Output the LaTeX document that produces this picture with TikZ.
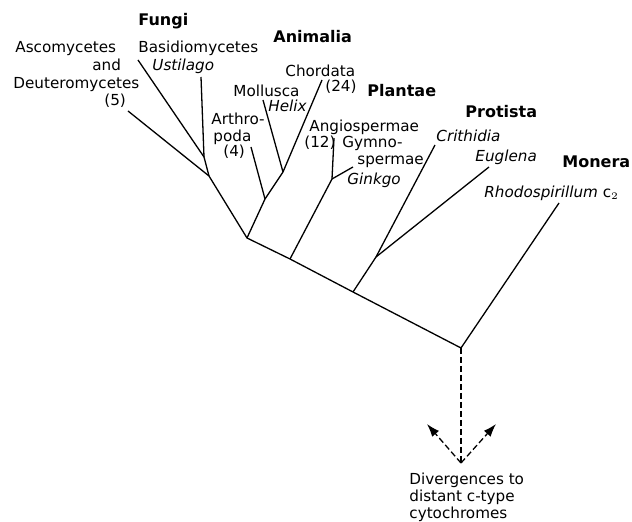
\documentclass[tikz,border=0pt]{standalone}
\usepackage{fontspec}
\setmainfont{DejaVu Sans}
\usetikzlibrary{arrows.meta}
\begin{document}
\begin{tikzpicture}[x=0.5pt,y=-0.5pt]
		\tikzset{> = {Latex[length = 6.5pt,width = 4.5pt]}}
		\tikzset{branch/.style = {line width = 0.65pt,line join = round},
			taxon/.style = {inner sep = 0pt,anchor = base west,font = \fontsize{7.6}{8.5}\selectfont},
			genus/.style = {taxon,font = \fontsize{7.6}{8.5}\selectfont\itshape},
			kingdom/.style = {taxon,font = \fontsize{8}{9}\selectfont\bfseries}}
		\useasboundingbox (0,0) rectangle (632,522);
		% branching points
		\coordinate (Root) at (461,348);
		\coordinate (Anim) at (247,238);
		\coordinate (Plnt) at (290,259);
		\coordinate (Prot) at (353,292);
		\coordinate (Fung) at (209,176);
		\coordinate (Basi) at (204,157);
		\coordinate (Arth) at (265,199);
		\coordinate (Chor) at (283,172);
		\coordinate (Sperm) at (332,179);
		\coordinate (Eugl) at (376,257);
		% tips
		\coordinate (tAsco) at (128,111);
		\coordinate (tBasi) at (138,60);
		\coordinate (tUsti) at (201,77);
		\coordinate (tArth) at (251,147);
		\coordinate (tMoll) at (263,100);
		\coordinate (tChor) at (322,80);
		\coordinate (tAngi) at (334,138);
		\coordinate (tGymn) at (353,167);
		\coordinate (tCrit) at (435,145);
		\coordinate (tEugl) at (489,167);
		\coordinate (tRhod) at (559,203);
		\coordinate (D) at (461,463);
		\coordinate (DL) at (427,424);
		\coordinate (DR) at (496,424);
		% tree
		\draw[branch] (tAsco) -- (Fung) -- (Anim) -- (Plnt) -- (Prot) -- (Root) -- (tRhod);
		\draw[branch] (tBasi) -- (Basi) -- (Fung);
		\draw[branch] (tUsti) -- (Basi);
		\draw[branch] (Anim) -- (Arth) -- (Chor) -- (tChor);
		\draw[branch] (tArth) -- (Arth);
		\draw[branch] (tMoll) -- (Chor);
		\draw[branch] (Plnt) -- (Sperm) -- (tAngi);
		\draw[branch] (tGymn) -- (Sperm);
		\draw[branch] (Prot) -- (Eugl) -- (tCrit);
		\draw[branch] (tEugl) -- (Eugl);
		\draw[branch,dash pattern = on 3pt off 1.5pt] (Root) -- (D);
		\draw[branch,dash pattern = on 3pt off 1.5pt,->] (D) -- (DL);
		\draw[branch,dash pattern = on 3pt off 1.5pt,->] (D) -- (DR);
		% labels
		\node[kingdom] (fungi) at (138,26) {Fungi};
		\node[taxon] (asco1) at (15,53) {Ascomycetes};
		\node[taxon] (asco2) at (92,71) {and};
		\node[taxon] (asco3) at (13,89) {Deuteromycetes};
		\node[taxon] (asco4) at (104,106) {(5)};
		\node[taxon] (basi) at (138,53) {Basidiomycetes};
		\node[genus] (usti) at (152,71) {Ustilago};
		\node[kingdom] (animalia) at (273,43) {Animalia};
		\node[taxon] (chor1) at (285,77) {Chordata};
		\node[taxon] (chor2) at (325,92) {(24)};
		\node[taxon] (moll) at (233,97) {Mollusca};
		\node[genus] (helix) at (268,112) {Helix};
		\node[taxon] (arth1) at (211,125) {Arthro-};
		\node[taxon] (arth2) at (213,142) {poda};
		\node[taxon] (arth3) at (223,157) {(4)};
		\node[kingdom] (plantae) at (367,97) {Plantae};
		\node[taxon] (angi1) at (309,132) {Angiospermae};
		\node[taxon] (angi2) at (304,148) {(12)};
		\node[taxon] (gymn1) at (342,148) {Gymno-};
		\node[taxon] (gymn2) at (357,165) {spermae};
		\node[genus] (ginkgo) at (347,185) {Ginkgo};
		\node[kingdom] (protista) at (465,118) {Protista};
		\node[genus] (crit) at (436,142) {Crithidia};
		\node[genus] (eugl) at (475,162) {Euglena};
		\node[kingdom] (monera) at (562,168) {Monera};
		\node[taxon] (rhod) at (484,198) {\textit{Rhodospirillum} c$_2$};
		\node[taxon,align = left] (diverg) at (409,519) {Divergences to\\distant c-type\\cytochromes};
	\end{tikzpicture}
\end{document}
